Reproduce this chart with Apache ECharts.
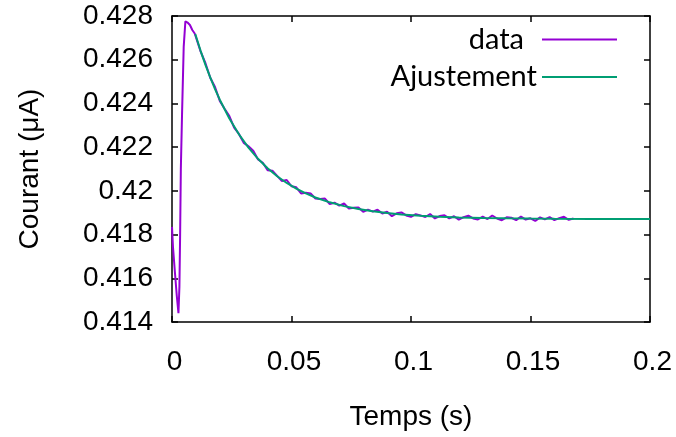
<!DOCTYPE html>
<html>
<head>
<meta charset="utf-8">
<script src="https://cdn.jsdelivr.net/npm/echarts@6/dist/echarts.min.js"></script>
<style>
html,body{margin:0;padding:0;background:#fff;}
#chart{width:676px;height:437px;}
</style>
</head>
<body>
<div id="chart"></div>
<script>
const dataTime = [
  0, 0.0004, 0.0012, 0.002, 0.0027, 0.0031, 0.0034, 0.0037, 0.0042, 0.0049, 0.0056, 0.0065, 0.0075, 0.0085, 0.0095,
  0.010, 0.012, 0.014, 0.016, 0.018, 0.020, 0.022, 0.024, 0.026, 0.028,
  0.030, 0.032, 0.034, 0.036, 0.038, 0.040, 0.042, 0.044, 0.046, 0.048,
  0.050, 0.052, 0.054, 0.056, 0.058, 0.060, 0.062, 0.064, 0.066, 0.068,
  0.070, 0.072, 0.074, 0.076, 0.078, 0.080, 0.082, 0.084, 0.086, 0.088,
  0.090, 0.092, 0.094, 0.096, 0.098, 0.100, 0.102, 0.104, 0.106, 0.108,
  0.110, 0.112, 0.114, 0.116, 0.118, 0.120, 0.122, 0.124, 0.126, 0.128,
  0.130, 0.132, 0.134, 0.136, 0.138, 0.140, 0.142, 0.144, 0.146, 0.148,
  0.150, 0.152, 0.154, 0.156, 0.158, 0.160, 0.162, 0.164, 0.166, 0.168
];
const dataCurrent = [
  0.41835, 0.41745, 0.41630, 0.41520, 0.41440, 0.41560, 0.41800, 0.42100, 0.42350, 0.42660, 0.42776, 0.42770, 0.42759, 0.42736, 0.42720,
  0.427127, 0.426366, 0.425841, 0.425174, 0.424748, 0.424111, 0.423753, 0.423418, 0.422891, 0.422605,
  0.422197, 0.422040, 0.421832, 0.421436, 0.421286, 0.420943, 0.420918, 0.420683, 0.420448, 0.420496,
  0.420210, 0.420161, 0.419882, 0.419913, 0.419876, 0.419653, 0.419632, 0.419648, 0.419400, 0.419457,
  0.419324, 0.419422, 0.419193, 0.419224, 0.419243, 0.419040, 0.419141, 0.419049, 0.419140, 0.418964,
  0.419044, 0.418842, 0.418971, 0.419012, 0.418875, 0.418814, 0.418934, 0.418876, 0.418803, 0.418942,
  0.418737, 0.418847, 0.418883, 0.418740, 0.418838, 0.418681, 0.418795, 0.418864, 0.418739, 0.418689,
  0.418820, 0.418711, 0.418872, 0.418734, 0.418655, 0.418787, 0.418770, 0.418663, 0.418825, 0.418688,
  0.418746, 0.418625, 0.418788, 0.418697, 0.418800, 0.418664, 0.418753, 0.418812, 0.418676, 0.418735
];
// Fitted curve ("Ajustement")
const fitTime = [
  0.00974, 0.012, 0.014, 0.016, 0.018, 0.020, 0.024, 0.028, 0.032, 0.036,
  0.040, 0.044, 0.048, 0.052, 0.056, 0.060, 0.066, 0.072, 0.078, 0.084,
  0.090, 0.096, 0.104, 0.112, 0.120, 0.130, 0.140, 0.150, 0.160, 0.175, 0.200
];
const fitCurrent = [
  0.427176, 0.426396, 0.425766, 0.425189, 0.424658, 0.424171, 0.423313, 0.422590, 0.421980, 0.421466,
  0.421033, 0.420668, 0.420361, 0.420101, 0.419883, 0.419698, 0.419475, 0.419302, 0.419168, 0.419064,
  0.418984, 0.418922, 0.418861, 0.418817, 0.418786, 0.418760, 0.418742, 0.418731, 0.418724, 0.418717, 0.418712
];
const seriesNames = ['data', 'Ajustement'];
const xRange = {min: 0, max: 0.2, interval: 0.05};
const yRange = {min: 0.414, max: 0.428, interval: 0.002};
const xTitle = 'Temps (s)';
const yTitle = 'Courant (\u03bcA)';

const pairs = (xs, ys) => xs.map((x, i) => [x, ys[i]]);
const axisFont = {fontFamily: '"Liberation Sans", Arial, sans-serif', fontSize: 28, color: '#000'};
const lineStyle = {color: '#000', width: 1.5};
const tickStyle = {show: true, inside: true, length: 6, lineStyle: {color: '#000', width: 1.5}};
const legendFont = {fontFamily: 'Lato, "Open Sans", sans-serif', fontSize: 29, color: '#000'};

const chart = echarts.init(document.getElementById('chart'), null, {renderer: 'canvas'});
chart.setOption({
  animation: false,
  backgroundColor: '#fff',
  grid: {left: 172, right: 26, top: 16, bottom: 115, containLabel: false},
  legend: [
    {data: [seriesNames[0]], orient: 'vertical', align: 'right', right: 59, top: 25, padding: 0,
     icon: 'rect', itemWidth: 75, itemHeight: 2,
     textStyle: Object.assign({padding: [0, 13, 0, 0]}, legendFont)},
    {data: [seriesNames[1]], orient: 'vertical', align: 'right', right: 59, top: 62.5, padding: 0,
     icon: 'rect', itemWidth: 75, itemHeight: 2,
     textStyle: Object.assign({}, legendFont)}
  ],
  xAxis: [
    {type: 'value', position: 'bottom', min: xRange.min, max: xRange.max, interval: xRange.interval,
     name: xTitle, nameLocation: 'middle', nameGap: 81, nameTextStyle: axisFont,
     axisLine: {show: true, onZero: false, lineStyle: lineStyle}, axisTick: tickStyle,
     axisLabel: Object.assign({margin: 26, padding: [0, 0, 0, 5], formatter: v => String(+v.toFixed(3))}, axisFont),
     splitLine: {show: false}},
    {type: 'value', position: 'top', min: xRange.min, max: xRange.max, interval: xRange.interval,
     axisLine: {show: true, onZero: false, lineStyle: lineStyle}, axisTick: tickStyle,
     axisLabel: {show: false}, splitLine: {show: false}}
  ],
  yAxis: [
    {type: 'value', position: 'left', min: yRange.min, max: yRange.max, interval: yRange.interval,
     name: yTitle, nameLocation: 'middle', nameGap: 128, nameTextStyle: axisFont,
     axisLine: {show: true, onZero: false, lineStyle: lineStyle}, axisTick: tickStyle,
     axisLabel: Object.assign({margin: 19, formatter: v => String(+v.toFixed(4))}, axisFont),
     splitLine: {show: false}},
    {type: 'value', position: 'right', min: yRange.min, max: yRange.max, interval: yRange.interval,
     axisLine: {show: true, onZero: false, lineStyle: lineStyle}, axisTick: tickStyle,
     axisLabel: {show: false}, splitLine: {show: false}}
  ],
  series: [
    {name: seriesNames[0], type: 'line', data: pairs(dataTime, dataCurrent), symbol: 'none', showSymbol: false,
     lineStyle: {color: '#9400D3', width: 2}, itemStyle: {color: '#9400D3'}, z: 2},
    {name: seriesNames[1], type: 'line', data: pairs(fitTime, fitCurrent), symbol: 'none', showSymbol: false,
     lineStyle: {color: '#009E73', width: 2}, itemStyle: {color: '#009E73'}, z: 3}
  ]
});
</script>
</body>
</html>
